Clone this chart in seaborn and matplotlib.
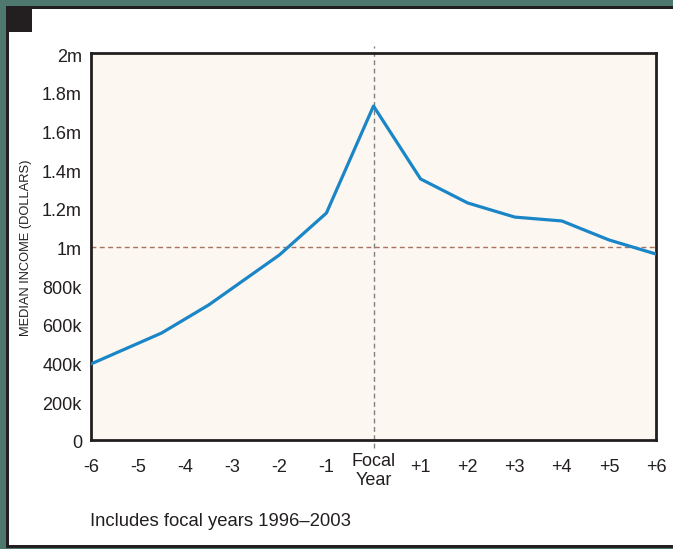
import matplotlib
matplotlib.use("Agg")
import matplotlib.pyplot as plt
import matplotlib.transforms as mtransforms
from matplotlib.patches import Rectangle
import seaborn as sns
import pandas as pd

# ---- data ----
years = [-6, -4.5, -3.5, -2, -1, 0, 1, 2, 3, 4, 5, 6]
median_income = [393000, 553000, 698000, 956000, 1173000, 1726000,
                 1349000, 1225000, 1152000, 1132000, 1034000, 961000]
xtick_vals = [-6, -5, -4, -3, -2, -1, 0, 1, 2, 3, 4, 5, 6]
xtick_labels = ["-6", "-5", "-4", "-3", "-2", "-1", "Focal\nYear",
                "+1", "+2", "+3", "+4", "+5", "+6"]
ytick_vals = [0, 200000, 400000, 600000, 800000, 1000000,
              1200000, 1400000, 1600000, 1800000, 2000000]
ytick_labels = ["0", "200k", "400k", "600k", "800k", "1m",
                "1.2m", "1.4m", "1.6m", "1.8m", "2m"]
ylabel = "MEDIAN INCOME (DOLLARS)"
footnote = "Includes focal years 1996\u20132003"

df = pd.DataFrame({"year": years, "income": median_income})

sns.set_style("white")
plt.rcParams["font.family"] = ["Liberation Sans", "DejaVu Sans"]

W, H = 673, 549
fig = plt.figure(figsize=(W / 100, H / 100), dpi=100)
fig.patch.set_facecolor("#4e776d")

dark = "#231f20"
# panel border and white panel
fig.patches.append(Rectangle((6 / W, 1 / H), (W - 6) / W, (548 - 6) / H,
                             transform=fig.transFigure, facecolor=dark,
                             edgecolor="none", zorder=-3))
fig.patches.append(Rectangle((9 / W, 4 / H), (W - 9) / W, (545 - 9) / H,
                             transform=fig.transFigure, facecolor="white",
                             edgecolor="none", zorder=-2))
fig.patches.append(Rectangle((6 / W, (H - 32) / H), 26 / W, 26 / H,
                             transform=fig.transFigure, facecolor=dark,
                             edgecolor="none", zorder=-1))

ax = fig.add_axes([91 / W, (H - 440) / H, (656 - 91) / W, (440 - 53) / H])
ax.set_zorder(1)
ax.set_facecolor("#fcf7f0")

sns.lineplot(data=df, x="year", y="income", ax=ax, color="#1a86c8",
             linewidth=2.3, zorder=3)

ax.axhline(1000000, color="#a9745f", linewidth=1.0, dashes=(3.5, 2.5),
           zorder=2)
ax.axvline(0, ymin=-0.02, ymax=1.018, color="#808080", linewidth=1.0,
           dashes=(3.5, 2.5), clip_on=False, zorder=2)

ax.set_xlim(-6, 6)
ax.set_ylim(0, 2000000)
ax.set_xticks(xtick_vals)
ax.set_xticklabels(xtick_labels, fontsize=13, linespacing=1.1)
ax.set_yticks(ytick_vals)
ax.set_yticklabels(ytick_labels, fontsize=13)
ax.tick_params(axis="y", length=0, pad=6.5, colors="#231f20")
ax.tick_params(axis="x", length=0, pad=19.5, colors="#231f20")
for lab in ax.get_xticklabels():
    lab.set_verticalalignment("center")
    if "Focal" in lab.get_text():
        lab.set_transform(lab.get_transform() +
                          mtransforms.ScaledTranslation(0, -4 / 100,
                                                        fig.dpi_scale_trans))
for lab in ax.get_yticklabels():
    lab.set_transform(lab.get_transform() +
                      mtransforms.ScaledTranslation(0, -2 / 100,
                                                    fig.dpi_scale_trans))
ax.set_xlabel("")
ax.set_ylabel("")

for s in ax.spines.values():
    s.set_visible(True)
    s.set_color(dark)
    s.set_linewidth(2.0)

fig.text(26 / W, (H - 248) / H, ylabel, rotation=90, ha="center",
         va="center", fontsize=9.3, color="#231f20")
fig.text(90 / W, (H - 522) / H, footnote, ha="left", va="center",
         fontsize=13.3, color="#231f20")

fig.savefig("out.png", dpi=100, facecolor=fig.get_facecolor())
